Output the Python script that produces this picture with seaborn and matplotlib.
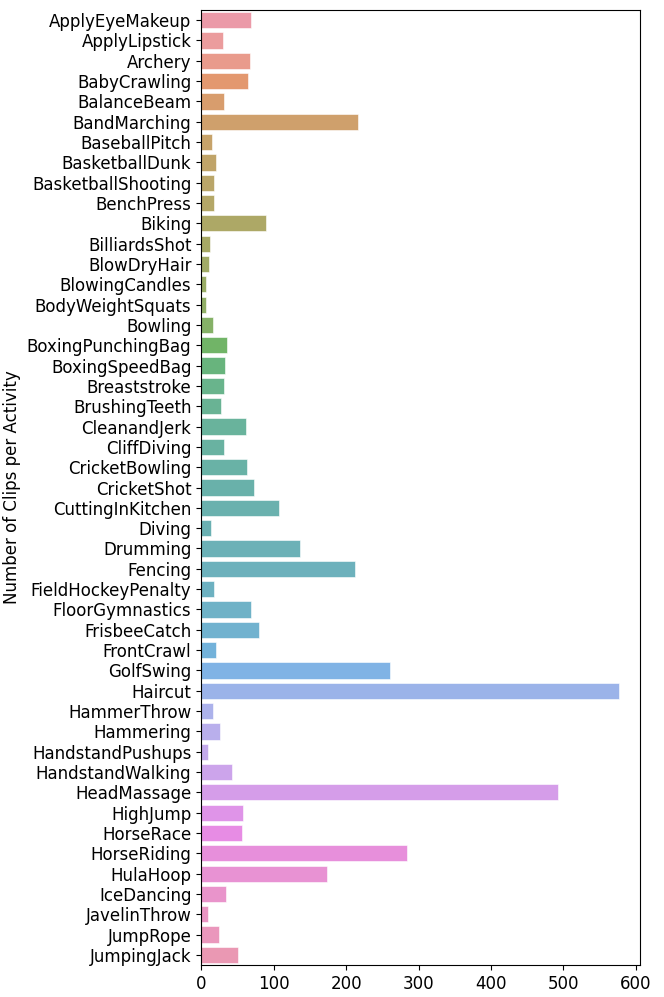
import matplotlib
matplotlib.use('Agg')
import matplotlib.pyplot as plt
import pandas as pd
import seaborn as sns

activities = ['ApplyEyeMakeup', 'ApplyLipstick', 'Archery', 'BabyCrawling', 'BalanceBeam',
              'BandMarching', 'BaseballPitch', 'BasketballDunk', 'BasketballShooting', 'BenchPress',
              'Biking', 'BilliardsShot', 'BlowDryHair', 'BlowingCandles', 'BodyWeightSquats',
              'Bowling', 'BoxingPunchingBag', 'BoxingSpeedBag', 'Breaststroke', 'BrushingTeeth',
              'CleanandJerk', 'CliffDiving', 'CricketBowling', 'CricketShot', 'CuttingInKitchen',
              'Diving', 'Drumming', 'Fencing', 'FieldHockeyPenalty', 'FloorGymnastics',
              'FrisbeeCatch', 'FrontCrawl', 'GolfSwing', 'Haircut', 'HammerThrow',
              'Hammering', 'HandstandPushups', 'HandstandWalking', 'HeadMassage', 'HighJump',
              'HorseRace', 'HorseRiding', 'HulaHoop', 'IceDancing', 'JavelinThrow',
              'JumpRope', 'JumpingJack']
clips = [69, 30, 67, 65, 31,
         216, 15, 20, 17, 17,
         89, 12, 11, 7, 6,
         16, 35, 33, 31, 28,
         62, 32, 63, 73, 108,
         13, 136, 212, 18, 69,
         80, 21, 261, 577, 16,
         26, 10, 43, 492, 58,
         56, 284, 174, 34, 10,
         25, 51]

df = pd.DataFrame({'activity': activities, 'clips': clips})

fig, ax = plt.subplots(figsize=(6.64, 9.97), dpi=100)
sns.barplot(data=df, x='clips', y='activity', hue='activity', palette='husl',
            legend=False, saturation=0.75, alpha=0.8,
            edgecolor='white', linewidth=0.5, ax=ax)
ax.set_xlabel('')
ax.set_ylabel('Number of Clips per Activity', fontsize=12)
ax.tick_params(axis='both', labelsize=12)
ax.set_xticks([0, 100, 200, 300, 400, 500, 600])
plt.subplots_adjust(left=0.303, right=0.964, top=0.99, bottom=0.032)
plt.savefig('out.png', dpi=100)
